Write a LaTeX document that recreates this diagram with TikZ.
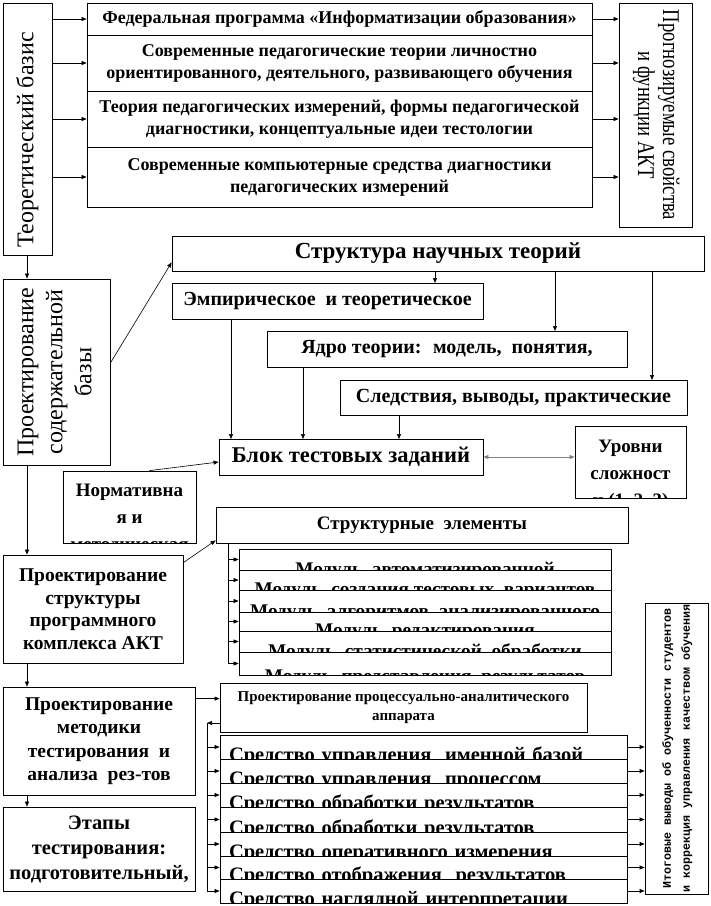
\documentclass[tikz,border=0pt]{standalone}
\usepackage{fontspec}
\setmainfont{Liberation Serif}
\newfontfamily\monofont{Liberation Mono}
\usepackage{graphicx}
\usetikzlibrary{arrows.meta}

% rotated multi-line text
\newcommand{\vtext}[3][1]{\rotatebox{#2}{\scalebox{#1}[1]{\begin{tabular}{@{}c@{}}#3\end{tabular}}}}
% text cut off by the box it sits in
\newcommand{\cutlabel}[3][]{%
  \begin{scope}
    \clip (#2.south west) rectangle (#2.north east);
    \node[cuttext, at=(#2.south), #1] (#2txt) {#3};
  \end{scope}}

\begin{document}
\begin{tikzpicture}[
    x=1pt, y=-1pt,
    font=\bfseries\fontsize{18}{22}\selectfont,
    cell/.style={draw, line width=0.8pt, inner sep=0pt, align=center},
    wh/.style 2 args={minimum width=#1, minimum height=#2},
    bigtxt/.style={font=\bfseries\fontsize{23}{27}\selectfont},
    midtxt/.style={font=\bfseries\fontsize{20}{24}\selectfont},
    verttxt/.style={font=\mdseries\fontsize{24}{29}\selectfont},
    cuttext/.style={anchor=base, inner sep=0pt, align=center},
    modtxt/.style={font=\bfseries\fontsize{19.3}{23}\selectfont, yshift=-5pt},
    tooltxt/.style={font=\bfseries\fontsize{20.5}{24}\selectfont, yshift=-2.5pt, text width=389pt, align=left},
    arr/.style={-{Triangle[length=5pt, width=4pt]}, line width=0.6pt},
    darr/.style={{Triangle[length=5pt, width=4pt]}-{Triangle[length=5pt, width=4pt]}, line width=0.6pt, gray}
  ]
  \useasboundingbox (0,0) rectangle (711,906);

  % theoretical base
  \node[cell, wh={49pt}{252pt}, verttxt] (theory) at (27.5,129) {\vtext{90}{Теоретический базис\hspace*{22pt}}};
  \node[cell, wh={505pt}{32pt}] (src1) at (339.5,19) {Федеральная программа «Информатизации образования»};
  \node[cell, wh={505pt}{56pt}] (src2) at (339.5,63) {Современные педагогические теории личностно\\ориентированного, деятельного, развивающего обучения};
  \node[cell, wh={505pt}{56pt}] (src3) at (339.5,119) {Теория педагогических измерений, формы педагогической\\диагностики, концептуальные идеи тестологии};
  \node[cell, wh={505pt}{60pt}] (src4) at (339.5,177) {Современные компьютерные средства диагностики\\педагогических измерений};
  \node[cell, wh={73pt}{224pt}, font=\mdseries\fontsize{24}{25}\selectfont] (prog) at (655.5,115) {\vtext[0.78]{-90}{Прогнозируемые свойства\\и функции АКТ}};

  % content base
  \node[cell, wh={107pt}{186pt}, verttxt] (cont) at (56.5,372) {\vtext{90}{Проектирование\\содержательной\\базы}};
  \node[cell, wh={532pt}{35pt}, bigtxt] (struct) at (438,253.5) {Структура научных теорий};
  \node[cell, wh={311pt}{36pt}, midtxt] (emp) at (327.5,301) {Эмпирическое \ и теоретическое};
  \node[cell, wh={360pt}{36pt}, midtxt] (core) at (447,349) {Ядро теории: \ модель, \ понятия,};
  \node[cell, wh={347pt}{35pt}, midtxt] (cons) at (513.5,397.5) {Следствия, выводы, практические};
  \node[cell, wh={264pt}{36pt}, font=\bfseries\fontsize{22.5}{26}\selectfont] (blok) at (351,457) {Блок тестовых заданий};
  \node[cell, wh={111pt}{72pt}] (lvl) at (630.5,462) {};
  \node[cell, wh={133pt}{72pt}] (norm) at (129.5,507) {};
  \cutlabel[at=(lvl.north), anchor=north, yshift=-14.4pt, font=\bfseries\fontsize{19}{27}\selectfont]{lvl}{Уровни\\сложност\\и (1, 2, 3)}
  \cutlabel[at=(norm.north), anchor=north, yshift=-13.4pt, font=\bfseries\fontsize{19}{27}\selectfont]{norm}{Нормативна\\я и\\методическая}

  % program structure
  \node[cell, wh={180pt}{108pt}, font=\bfseries\fontsize{19.5}{22.5}\selectfont] (prstr) at (93,609) {Проектирование\\структуры\\программного\\комплекса АКТ};
  \node[cell, wh={412pt}{36pt}, font=\bfseries\fontsize{19}{23}\selectfont] (selem) at (422,525) {Структурные \ элементы};
  \node[cell, wh={372pt}{21pt}] (m1) at (425,559.5) {};
  \node[cell, wh={372pt}{20pt}] (m2) at (425,580) {};
  \node[cell, wh={372pt}{22pt}] (m3) at (425,601) {};
  \node[cell, wh={372pt}{19pt}] (m4) at (425,621.5) {};
  \node[cell, wh={372pt}{21pt}] (m5) at (425,641.5) {};
  \node[cell, wh={372pt}{23pt}] (m6) at (425,663.5) {};
  \cutlabel[modtxt]{m1}{Модуль \ автоматизированной}
  \cutlabel[modtxt]{m2}{Модуль \ создания тестовых \ вариантов}
  \cutlabel[modtxt]{m3}{Модуль \ алгоритмов \ анализированного}
  \cutlabel[modtxt]{m4}{Модуль \ редактирования}
  \cutlabel[modtxt]{m5}{Модуль \ статистической \ обработки}
  \cutlabel[modtxt, yshift=-2pt]{m6}{Модуль \ представления \ результатов}

  % testing method
  \node[cell, wh={192pt}{108pt}, font=\bfseries\fontsize{19.5}{23.5}\selectfont] (method) at (99,741) {Проектирование\\методики\\тестирования \ и\\анализа \ рез-тов};
  \node[cell, wh={192pt}{84pt}, font=\bfseries\fontsize{20.5}{25}\selectfont] (stages) at (99,849) {Этапы\\тестирования:\\подготовительный,};
  \node[cell, wh={367pt}{49pt}, font=\bfseries\fontsize{15}{19}\selectfont] (proc) at (403.5,707.5) {Проектирование процессуально-аналитического\\аппарата};
  \node[cell, wh={407pt}{24pt}] (s1) at (423.5,747) {};
  \node[cell, wh={407pt}{24pt}] (s2) at (423.5,771) {};
  \node[cell, wh={407pt}{24pt}] (s3) at (423.5,795) {};
  \node[cell, wh={407pt}{25pt}] (s4) at (423.5,819.5) {};
  \node[cell, wh={407pt}{24pt}] (s5) at (423.5,844) {};
  \node[cell, wh={407pt}{23pt}] (s6) at (423.5,867.5) {};
  \node[cell, wh={407pt}{24pt}] (s7) at (423.5,891) {};
  \cutlabel[tooltxt]{s1}{Средство управления \ именной базой}
  \cutlabel[tooltxt]{s2}{Средство управления \ процессом}
  \cutlabel[tooltxt]{s3}{Средство обработки результатов}
  \cutlabel[tooltxt]{s4}{Средство обработки результатов}
  \cutlabel[tooltxt]{s5}{Средство оперативного измерения}
  \cutlabel[tooltxt]{s6}{Средство отображения \ результатов}
  \cutlabel[tooltxt]{s7}{Средство наглядной интерпретации}
  \node[cell, wh={63pt}{291pt}, font=\monofont\bfseries\fontsize{11.7}{19}\selectfont] (itog) at (676.5,748.5) {\vtext{90}{Итоговые выводы об обученности студентов\\и коррекция управления качеством обучения}};

  % left spine
  \coordinate (lft) at (27,0);
  \draw[arr] (lft |- theory.south) -- (lft |- cont.north);
  \draw[arr] (lft |- cont.south) -- (lft |- prstr.north);
  \draw[arr] (lft |- prstr.south) -- (lft |- method.north);
  \draw[arr] (lft |- method.south) -- (lft |- stages.north);

  \draw[arr] (src1.west -| theory.east) -- (src1.west);
  \draw[arr] (src2.west -| theory.east) -- (src2.west);
  \draw[arr] (src3.west -| theory.east) -- (src3.west);
  \draw[arr] (src4.west -| theory.east) -- (src4.west);
  \draw[arr] (src1.east) -- (src1.east -| prog.west);
  \draw[arr] (src2.east) -- (src2.east -| prog.west);
  \draw[arr] (src3.east) -- (src3.east -| prog.west);
  \draw[arr] (src4.east) -- (src4.east -| prog.west);

  % theory structure
  \coordinate (toEmp) at (435,283);
  \coordinate (toCore) at (555,331);
  \coordinate (toCons) at (652,380);
  \coordinate (inBlk1) at (231,439);
  \coordinate (inBlk2) at (303,439);
  \coordinate (inBlk3) at (399,439);
  \draw[arr] ([yshift=9pt]cont.east) -- ([yshift=9pt]struct.south west);
  \draw[arr] (toEmp |- struct.south) -- (toEmp);
  \draw[arr] (toCore |- struct.south) -- (toCore);
  \draw[arr] (toCons |- struct.south) -- (toCons);
  \draw[arr] (inBlk1 |- emp.south) -- (inBlk1);
  \draw[arr] (inBlk2 |- core.south) -- (inBlk2);
  \draw[arr] (inBlk3 |- cons.south) -- (inBlk3);
  \draw[arr] ([xshift=20pt]norm.north) -- ([yshift=-5pt]blok.west);
  \draw[darr] (blok.east) -- (blok.east -| lvl.west);

  % modules
  \coordinate (mfeed) at (228,543);
  \draw[arr] ([yshift=-8pt]prstr.north east) -- ([yshift=3pt]selem.south west);
  \draw[arr] (mfeed) |- (m6.west);
  \draw[arr] (m1.west -| mfeed) -- (m1.west);
  \draw[arr] (m2.west -| mfeed) -- (m2.west);
  \draw[arr] (m3.west -| mfeed) -- (m3.west);
  \draw[arr] (m4.west -| mfeed) -- (m4.west);
  \draw[arr] (m5.west -| mfeed) -- (m5.west);

  % tools
  \coordinate (sfeed) at (207,723);
  \draw[arr] ([yshift=-12pt]method.north east) -- ([yshift=-12pt]method.north east -| proc.west);
  \draw[arr] (proc.west |- sfeed) -- (sfeed);
  \draw[arr] (sfeed) |- (s7.west);
  \draw[arr] (s1.west -| sfeed) -- (s1.west);
  \draw[arr] (s2.west -| sfeed) -- (s2.west);
  \draw[arr] (s3.west -| sfeed) -- (s3.west);
  \draw[arr] (s4.west -| sfeed) -- (s4.west);
  \draw[arr] (s5.west -| sfeed) -- (s5.west);
  \draw[arr] (s6.west -| sfeed) -- (s6.west);
  \draw[arr] (s1.east) -- (s1.east -| itog.west);
  \draw[arr] (s2.east) -- (s2.east -| itog.west);
  \draw[arr] (s3.east) -- (s3.east -| itog.west);
  \draw[arr] (s4.east) -- (s4.east -| itog.west);
  \draw[arr] (s5.east) -- (s5.east -| itog.west);
  \draw[arr] (s6.east) -- (s6.east -| itog.west);
  \draw[arr] (s7.east) -- (s7.east -| itog.west);
\end{tikzpicture}
\end{document}
